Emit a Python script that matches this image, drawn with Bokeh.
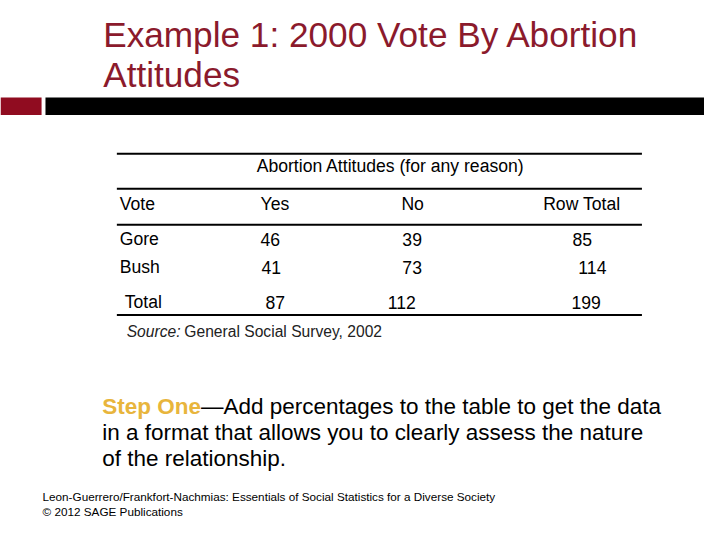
from bokeh.plotting import figure
from bokeh.models import Range1d, ColumnDataSource
from bokeh.core.properties import value
from bokeh.embed import file_html
from bokeh.resources import INLINE

# ---------------- data ----------------
title_lines = ["Example 1: 2000 Vote By Abortion", "Attitudes"]
spanner = "Abortion Attitudes (for any reason)"
col_headers = ["Vote", "Yes", "No", "Row Total"]
votes = ["Gore", "Bush"]
yes_counts = [46, 41]
no_counts = [39, 73]
row_totals = [85, 114]
total_label = "Total"
col_totals = [87, 112, 199]
source_label = "Source:"
source_text = "General Social Survey, 2002"
step_lead = "Step One"
step_lines = ["\u2014Add percentages to the table to get the data",
              "in a format that allows you to clearly assess the nature",
              "of the relationship."]
footer_lines = ["Leon-Guerrero/Frankfort-Nachmias: Essentials of Social Statistics for a Diverse Society",
                "\u00a9 2012 SAGE Publications"]

# ---------------- layout (slide coordinates 720 x 540) ----------------
W, H = 704, 524
K = W / 720.0
FONT = value("Liberation Sans")
p = figure(width=W, height=H, output_backend="svg", toolbar_location=None,
           x_range=Range1d(0, 720), y_range=Range1d(540, 0),
           min_border=0, outline_line_color=None, background_fill_color="white",
           border_fill_color="white")
p.axis.visible = False
p.grid.visible = False

TITLE_C = "#8B1A2C"

def px(s):
    return "%.2fpx" % (s * K)

def txt(x, y, t, size, color="black", style="normal", align="left"):
    src = ColumnDataSource(dict(x=x, y=y, t=t))
    p.text(x="x", y="y", text="t", source=src, text_font=FONT,
           text_font_size=px(size), text_color=color, text_font_style=style,
           text_align=align, text_baseline="middle")

# title
txt([105, 105], [35, 76], title_lines, 36, TITLE_C)

# bars under title
p.quad(left=[0], right=[42], top=[100], bottom=[118], fill_color="#900C20", line_color=None)
p.quad(left=[46], right=[720], top=[100], bottom=[118], fill_color="black", line_color=None)

# table rules
rule_y = [158, 194, 231, 324]
p.segment(x0=[119] * 4, x1=[656] * 4, y0=rule_y, y1=rule_y, line_color="black", line_width=2)

TS = 18
# spanner header
txt([262], [171], [spanner], TS)
# column headers
txt([122, 266, 410, 555], [209.5] * 4, col_headers, TS)
# body rows
row_y = [246, 275]
txt([122, 122], row_y, votes, TS)
txt([266, 267], row_y, [str(v) for v in yes_counts], TS)
txt([411, 411], row_y, [str(v) for v in no_counts], TS)
txt([585, 591], row_y, [str(v) for v in row_totals], TS)
# totals row
txt([127], [311], [total_label], TS)
txt([271, 396, 584], [311] * 3, [str(v) for v in col_totals], TS)

# source
txt([129], [341], [source_label], 16, "#222222", "italic")
txt([188], [341], [source_text], 16, "#222222")

# step one paragraph
txt([104], [418], [step_lead], 23, "#E8B53C", "bold")
txt([205, 104, 104], [418, 445, 472], step_lines, 23)

# footer
txt([43, 43], [511.5, 526.5], footer_lines, 12)

open("out.html", "w").write(file_html(p, INLINE))
